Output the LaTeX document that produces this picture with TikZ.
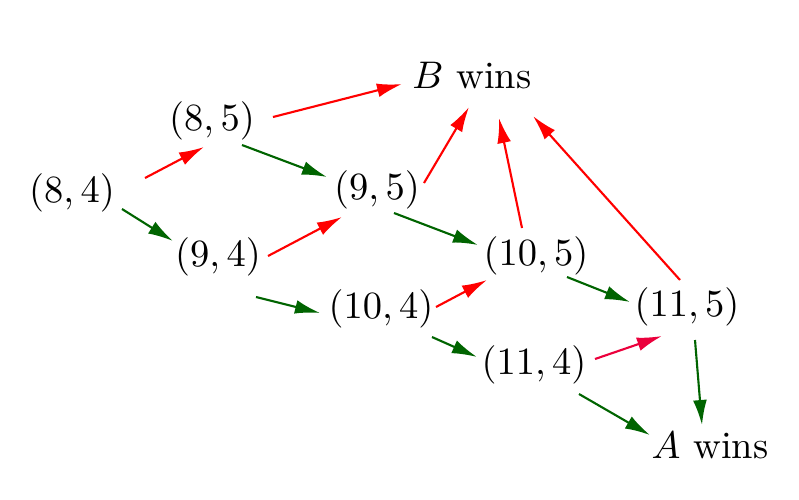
\documentclass[tikz,border=0pt]{standalone}
\usetikzlibrary{arrows.meta}
\definecolor{winred}{RGB}{255,0,0}
\definecolor{wingreen}{RGB}{0,100,0}
\definecolor{crim}{RGB}{235,0,60}
\begin{document}
\begin{tikzpicture}[x=0.2597pt,y=-0.2597pt,
  st/.style={inner sep=0pt},
  ra/.style={-{Latex[length=6.5pt,width=3.6pt]},line width=0.55pt,draw=winred},
  ca/.style={-{Latex[length=6.5pt,width=3.6pt]},line width=0.55pt,draw=crim},
  ga/.style={-{Latex[length=6.5pt,width=3.6pt]},line width=0.55pt,draw=wingreen}]
\useasboundingbox (0,0) rectangle (799,499);
\node[st] (n84) at (72,193) {$(8,4)$};
\node[st] (n85) at (212,121) {$(8,5)$};
\node[st] (n94) at (218,257) {$(9,4)$};
\node[st] (n95) at (377,190) {$(9,5)$};
\node[st] (n104) at (381,309) {$(10,4)$};
\node[st] (n105) at (536,256) {$(10,5)$};
\node[st] (n114) at (534,365) {$(11,4)$};
\node[st] (n115) at (687,307) {$(11,5)$};
\node[st,anchor=base] (nB) at (472,88) {$B$ wins};
\node[st,anchor=base] (nA) at (710,458) {$A$ wins};
% red arrows
\draw[ra] ([shift={(73,-15)}]n84.center) -- ([shift={(-8,26)}]n85.center);
\draw[ra] ([shift={(61,-4)}]n85.center) -- ([shift={(-70,9)}]nB.center);
\draw[ra] ([shift={(50,-1)}]n94.center) -- ([shift={(-35,27)}]n95.center);
\draw[ra] ([shift={(47,-7)}]n95.center) -- ([shift={(-3,32)}]nB.center);
\draw[ra] ([shift={(55,-2)}]n104.center) -- ([shift={(-49,24)}]n105.center);
\draw[ra] ([shift={(-14,-28)}]n105.center) -- ([shift={(27,43)}]nB.center);
\draw[ra] ([shift={(-7,-27)}]n115.center) -- ([shift={(61,41)}]nB.center);
\draw[ca] ([shift={(61,-6)}]n114.center) -- ([shift={(-25,29)}]n115.center);
% green arrows
\draw[ga] ([shift={(50,16)}]n84.center) -- ([shift={(-45,-16)}]n94.center);
\draw[ga] ([shift={(30,24)}]n85.center) -- ([shift={(-50,-13)}]n95.center);
\draw[ga] ([shift={(38,40)}]n94.center) -- ([shift={(-61,4)}]n104.center);
\draw[ga] ([shift={(17,23)}]n95.center) -- ([shift={(-58,-11)}]n105.center);
\draw[ga] ([shift={(51,28)}]n104.center) -- ([shift={(-57,-8)}]n114.center);
\draw[ga] ([shift={(31,21)}]n105.center) -- ([shift={(-57,-5)}]n115.center);
\draw[ga] ([shift={(8,33)}]n115.center) -- ([shift={(-8,-20)}]nA.center);
\draw[ga] ([shift={(45,29)}]n114.center) -- ([shift={(-60,-10)}]nA.center);
\end{tikzpicture}
\end{document}
